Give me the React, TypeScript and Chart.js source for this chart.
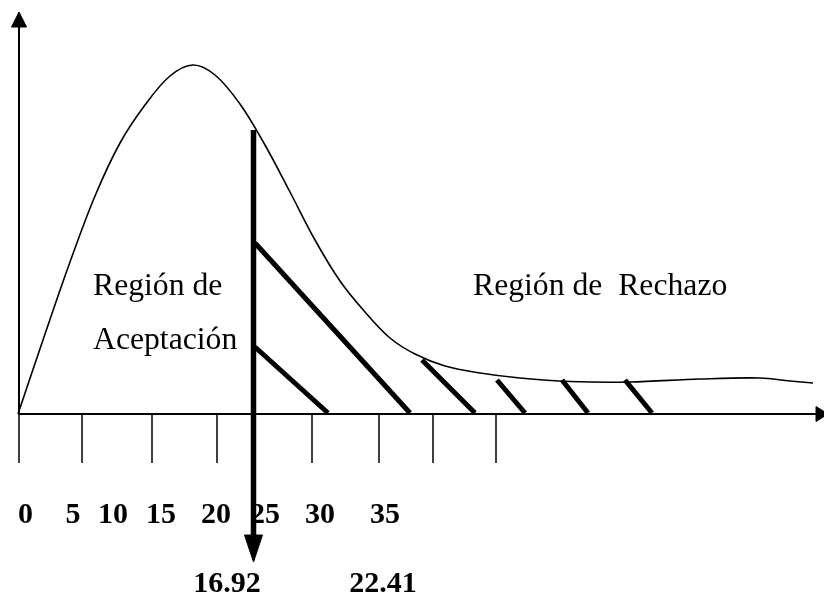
import React, { useEffect, useRef } from "react";
import { Chart, registerables } from "chart.js";

Chart.register(...registerables);

// Density curve (diagram units: x right, y down, same frame as the picture)
const curveX = [18, 45, 70, 95, 120, 145, 170, 193, 215, 240, 265, 290, 315, 340, 365, 390, 415, 445, 480, 520, 570, 630, 700, 760, 790, 813];
const curveY = [414, 334, 262, 196, 143, 105, 76, 65, 75, 104, 145, 192, 240, 281, 312, 338, 354, 366, 373, 378, 381.5, 382, 379, 378, 381, 383];

// Axes
const axisOrigin = [19, 414];
const yAxisTop = 27;
const xAxisEnd = 816;

// Tick marks and labels
const tickX = [19, 82, 152, 217, 312, 379, 433, 496];
const tickLabels = ["0", "5", "10", "15", "20", "25", "30", "35"];
const tickLabelX = [25.5, 73, 113, 161, 216, 265, 320, 385];

// Critical value marker
const criticalX = 253.5;
const criticalTop = 130;
const criticalArrowBase = 535;
const criticalArrowTip = 562;
const criticalLabels = ["16.92", "22.41"];
const criticalLabelX = [227, 383];

// Hatching of the rejection region
const hatchStartX = [255, 255, 422, 497, 562, 625];
const hatchStartY = [243, 347, 360, 380, 380, 380];
const hatchEndX = [410, 328, 475, 525, 588, 652];
const hatchEndY = [413, 413, 413, 413, 413, 413];

// Region texts
const leftRegionLines = ["Región de", "Aceptación"];
const rightRegionText = "Región de  Rechazo";

const BLACK = "#000000";

function seg(points: { x: number; y: number }[], width: number, extra: any = {}) {
  return {
    data: points,
    showLine: true,
    borderColor: BLACK,
    backgroundColor: BLACK,
    borderWidth: width,
    pointRadius: 0,
    pointHoverRadius: 0,
    fill: false,
    tension: 0,
    ...extra,
  };
}

const textPlugin = {
  id: "diagramText",
  beforeDatasetsDraw(chart: any) {
    const { ctx, scales } = chart;
    const sx = (v: number) => scales.x.getPixelForValue(v);
    const sy = (v: number) => scales.y.getPixelForValue(v);
    ctx.save();
    ctx.fillStyle = BLACK;
    ctx.textBaseline = "alphabetic";
    ctx.font = "bold 30px 'Liberation Serif', 'Times New Roman', serif";
    ctx.textAlign = "center";
    tickLabels.forEach((t, i) => ctx.fillText(t, sx(tickLabelX[i]), sy(523)));
    criticalLabels.forEach((t, i) => ctx.fillText(t, sx(criticalLabelX[i]), sy(592)));
    ctx.font = "31.7px 'Liberation Serif', 'Times New Roman', serif";
    ctx.textAlign = "left";
    ctx.fillText(leftRegionLines[0], sx(93), sy(295));
    ctx.fillText(leftRegionLines[1], sx(93), sy(349));
    ctx.fillText(rightRegionText, sx(473), sy(295));
    ctx.restore();
  },
};

export default function App() {
  const ref = useRef<HTMLCanvasElement | null>(null);

  useEffect(() => {
    if (!ref.current) return;
    const [ox, oy] = axisOrigin;
    const datasets: any[] = [];

    // curve
    datasets.push(
      seg(curveX.map((x, i) => ({ x, y: curveY[i] })), 1.6, { tension: 0.35 })
    );
    // y axis
    datasets.push(seg([{ x: ox, y: oy }, { x: ox, y: yAxisTop }], 2));
    datasets.push(
      seg([{ x: ox - 7.5, y: yAxisTop }, { x: ox, y: 12 }, { x: ox + 7.5, y: yAxisTop }, { x: ox - 7.5, y: yAxisTop }], 1, { fill: "shape" })
    );
    // x axis
    datasets.push(seg([{ x: ox - 1, y: oy }, { x: xAxisEnd, y: oy }], 2));
    datasets.push(
      seg([{ x: xAxisEnd, y: oy - 7.5 }, { x: 828, y: oy }, { x: xAxisEnd, y: oy + 7.5 }, { x: xAxisEnd, y: oy - 7.5 }], 1, { fill: "shape" })
    );
    // ticks
    tickX.forEach((x) => datasets.push(seg([{ x, y: oy }, { x, y: 463 }], 1.5)));
    // hatching
    hatchStartX.forEach((x, i) =>
      datasets.push(seg([{ x, y: hatchStartY[i] }, { x: hatchEndX[i], y: hatchEndY[i] }], 5))
    );
    // critical line + arrow
    datasets.push(seg([{ x: criticalX, y: criticalTop }, { x: criticalX, y: criticalArrowBase + 2 }], 5.5));
    datasets.push(
      seg(
        [
          { x: criticalX - 9, y: criticalArrowBase },
          { x: criticalX, y: criticalArrowTip },
          { x: criticalX + 9, y: criticalArrowBase },
          { x: criticalX - 9, y: criticalArrowBase },
        ],
        1,
        { fill: "shape" }
      )
    );

    const chart = new Chart(ref.current, {
      type: "scatter",
      data: { datasets },
      options: {
        animation: false,
        responsive: false,
        maintainAspectRatio: false,
        layout: { padding: 0 },
        plugins: { legend: { display: false }, tooltip: { enabled: false } },
        events: [],
        scales: {
          x: { type: "linear", min: 0, max: 824, display: false },
          y: { type: "linear", min: 0, max: 608, reverse: true, display: false },
        },
        elements: { line: { borderCapStyle: "butt" } },
      } as any,
      plugins: [textPlugin],
    });
    return () => chart.destroy();
  }, []);

  return (
    <div style={{ position: "absolute", left: 0, top: 0, width: 824, height: 608, background: "#fff" }}>
      <canvas ref={ref} width={824} height={608} style={{ display: "block" }} />
    </div>
  );
}
